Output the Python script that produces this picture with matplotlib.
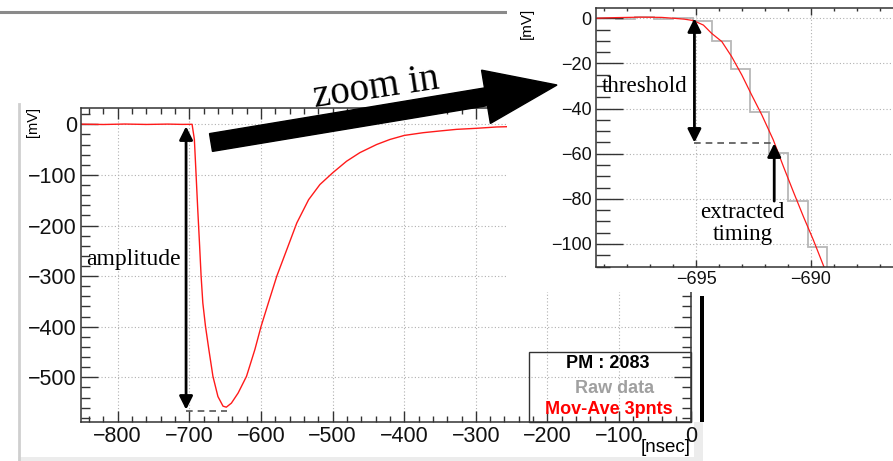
import matplotlib
matplotlib.use('Agg')
import matplotlib.pyplot as plt
from matplotlib.patches import Rectangle, FancyArrow
from matplotlib.ticker import MultipleLocator, FixedLocator

plt.rcParams['font.family'] = ['Liberation Sans', 'DejaVu Sans']
plt.rcParams['axes.unicode_minus'] = True

# main waveform (moving average of 3 points)
wave_t = [-851, -820, -790, -760, -730, -710, -696.2, -693, -690.6, -688.3,
          -685.9, -683.6, -681.2, -677.5, -672.8, -667.1, -660.1, -653,
          -648.4, -641.3, -631.9, -620.2, -608.5, -600, -589.7, -577.9,
          -563.8, -550, -533.5, -517.7, -500, -480.5, -461.9, -438.6, -420,
          -400, -373.5, -350.2, -327, -300, -271, -252.6, -200, -150, -100,
          -50, 0]
wave_mv = [0.3, -0.4, 0.5, -0.3, 0.4, -0.2, 0, -30, -100, -168,
           -234, -300, -353, -399, -445, -498, -538, -557,
           -559, -551, -531, -498, -445, -400, -353, -300,
           -247, -195, -149, -119, -96, -73, -56, -40, -30,
           -22, -16.6, -13.2, -10, -8, -5.3, -4.6, -3, -2, -1.5,
           -1, -1]

# zoomed leading edge: smoothed curve
zoom_t = [-699.4, -698.5, -697.4, -696.5, -695.96, -695.5, -695.12, -694.68,
          -694.32, -693.88, -693.45, -693.01, -692.58, -692.14, -691.64,
          -691.2, -690.77, -690.33, -689.9, -689.47, -689.0]
zoom_mv = [0.0, 0.3, 0.5, 0.4, 0.0, -0.4, -1.0, -3.0, -6.7, -10.3, -17.0,
           -25.1, -34.0, -42.8, -53.9, -65.7, -76.8, -87.9, -98.2, -109.3, -121]

# zoomed leading edge: raw samples (bins of ~0.83 ns)
raw_edges = [-699.32, -698.48, -697.65, -696.82, -695.98, -695.15, -694.32,
             -693.48, -692.65, -691.82, -690.98, -690.15, -689.32, -688.48]
raw_mv = [0.2, -0.3, 0.4, -0.3, 0.3, -1.0, -9.9, -22.5, -41.4, -59.8, -80.8,
          -101.2, -121]

# annotation levels
amp_t, amp_level, peak_t = -704.6, -566, -648
thr_t, thr_level, timing_t = -695.07, -55.1, -691.6

serif = 'Liberation Serif'
W, H = 893, 461

fig = plt.figure(figsize=(W / 100, H / 100), dpi=100)


def px_axes(l, t, r, b, **kw):
    return fig.add_axes([l / W, (H - b) / H, (r - l) / W, (b - t) / H], **kw)


# background canvas decorations
bg = px_axes(0, 0, W, H, zorder=-1)
bg.set_xlim(0, W)
bg.set_ylim(H, 0)
bg.axis('off')
bg.plot([0, 507], [12, 12], color='#8a8a8a', lw=2.2)
bg.plot([19, 19], [104, H], color='#cfcfcf', lw=2)
bg.add_patch(Rectangle((18, 457), 685, 4, fc='#ececec', ec='none'))
bg.add_patch(Rectangle((694, 422), 9, 39, fc='#ececec', ec='none'))
bg.add_patch(Rectangle((700, 296), 4, 126, fc='black', ec='none'))


def style(ax, ylen, xlen, fs):
    for s in ax.spines.values():
        s.set_color('#333333')
        s.set_linewidth(1.1)
    ax.grid(True, which='major', color='#b0b0b0', ls=(0, (1, 2)), lw=0.8)
    ax.tick_params(which='both', direction='in', top=True, right=True,
                   colors='#333333', labelcolor='#111111', labelsize=fs, pad=3)
    ax.tick_params(axis='y', which='major', length=ylen[0], width=1)
    ax.tick_params(axis='y', which='minor', length=ylen[1], width=1)
    ax.tick_params(axis='x', which='major', length=xlen[0], width=1)
    ax.tick_params(axis='x', which='minor', length=xlen[1], width=1)


# main plot
ax = px_axes(81, 108, 690.7, 422, zorder=0)
ax.plot(wave_t, wave_mv, color='#ff1a1a', lw=1.0)
ax.set_xlim(-851.3, 0)
ax.set_ylim(-588.3, 32.2)
ax.xaxis.set_major_locator(MultipleLocator(100))
ax.xaxis.set_minor_locator(MultipleLocator(20))
ax.yaxis.set_major_locator(MultipleLocator(100))
ax.yaxis.set_minor_locator(MultipleLocator(20))
style(ax, (12.2, 6.5), (8, 4.3), 15.5)

ax.annotate('', xy=(amp_t, amp_level + 2), xytext=(amp_t, -4),
            arrowprops=dict(arrowstyle='<|-|>', color='black', lw=2,
                            mutation_scale=20, shrinkA=0, shrinkB=0))
ax.plot([amp_t, peak_t], [amp_level, amp_level], ls=(0, (4, 3)),
        color='#555555', lw=1.2)
ax.text(-844.3, -268, 'amplitude', ha='left', va='center', fontsize=17,
        family=serif)

# white panel behind the zoomed picture
fig.add_artist(Rectangle((507 / W, (H - 292) / H), 386 / W, 292 / H,
                         transform=fig.transFigure, fc='white', ec='none',
                         zorder=1))

# inset (zoomed leading edge)
ins = px_axes(596, 8, 949, 267, zorder=2)
ins.stairs(raw_mv, raw_edges, baseline=None, color='#b8b8b8', lw=1.3)
ins.plot(zoom_t, zoom_mv, color='#ff1a1a', lw=0.9)
ins.set_xlim(-699.35, -684)
ins.set_ylim(-110.2, 4.56)
ins.xaxis.set_major_locator(FixedLocator([-695, -690]))
ins.xaxis.set_minor_locator(MultipleLocator(1))
ins.yaxis.set_major_locator(MultipleLocator(20))
ins.yaxis.set_minor_locator(MultipleLocator(5))
style(ins, (19.4, 10), (5, 2.5), 13)

ins.annotate('', xy=(thr_t, thr_level), xytext=(thr_t, 0),
             arrowprops=dict(arrowstyle='<|-|>', color='black', lw=2,
                             mutation_scale=20, shrinkA=0, shrinkB=0))
ins.plot([thr_t, timing_t], [thr_level, thr_level], ls=(0, (4, 3)),
         color='#555555', lw=1.2)
ins.annotate('', xy=(timing_t, thr_level - 0.3), xytext=(timing_t, -81),
             arrowprops=dict(arrowstyle='-|>', color='black', lw=2,
                             mutation_scale=20, shrinkA=0, shrinkB=0))
ins.text(-699.09, -30.4, 'threshold', ha='left', va='center', fontsize=16.6,
         family=serif)
ins.text(-692.98, -91.1, 'extracted\ntiming', ha='center', va='center',
         multialignment='center', fontsize=16.6, family=serif, linespacing=1.05)

# overlay: zoom arrow, axis units, legend
ov = px_axes(0, 0, W, H, zorder=3)
ov.set_xlim(0, W)
ov.set_ylim(H, 0)
ov.axis('off')
ov.patch.set_alpha(0)

ov.add_patch(FancyArrow(211, 142.5, 346, -57.5, width=18, head_width=54,
                        head_length=72, length_includes_head=True,
                        color='black'))
ov.text(378, 98, 'zoom in', rotation=8.5, rotation_mode='anchor',
        ha='center', va='baseline', fontsize=28, family=serif)

ov.text(33, 122, '[mV]', rotation=90, ha='center', va='center', fontsize=10.5)
ov.text(527, 23, '[mV]', rotation=90, ha='center', va='center', fontsize=11)
ov.text(666, 447, '[nsec]', ha='center', va='center', fontsize=13.5)

ov.add_patch(Rectangle((529, 352), 161.7, 70, fc='none', ec='#333333', lw=1))
ov.text(608, 363, 'PM : 2083', ha='center', va='center', fontsize=13,
        fontweight='bold', color='black')
ov.text(615, 388, 'Raw data', ha='center', va='center', fontsize=13,
        fontweight='bold', color='#a0a0a0')
ov.text(609, 409, 'Mov-Ave 3pnts', ha='center', va='center', fontsize=13,
        fontweight='bold', color='#ff0000')

fig.savefig('out.png', dpi=100)
